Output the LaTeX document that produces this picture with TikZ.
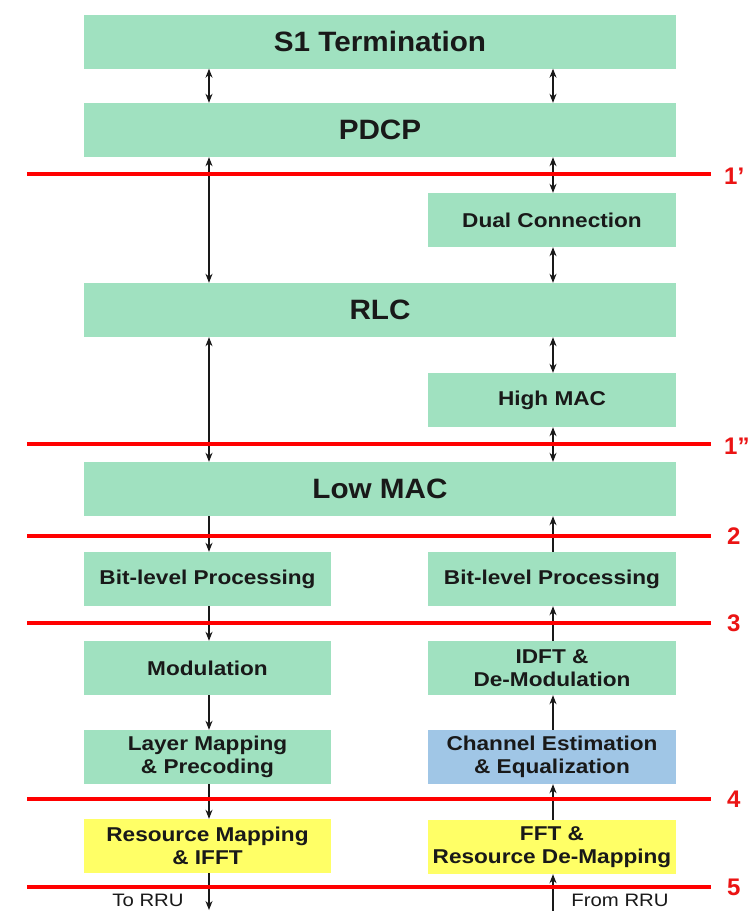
\documentclass[tikz,border=0pt]{standalone}
\usepackage{fontspec}
\setmainfont{Liberation Sans}
\newfontfamily\smallboxfont[FakeStretch=1.13]{Liberation Sans}
\newfontfamily\bigboxfont[FakeStretch=1.06]{Liberation Sans}
\usetikzlibrary{arrows.meta}
\definecolor{boxgreen}{RGB}{160,225,192}
\definecolor{boxblue}{RGB}{160,198,230}
\definecolor{boxyellow}{RGB}{255,255,102}
\definecolor{labelred}{RGB}{235,20,20}
\definecolor{txt}{RGB}{25,25,25}
\tikzset{
  widebox/.style={fill=boxgreen, draw=none, minimum width=592pt, minimum height=54pt, inner sep=0pt,
    text=txt, font=\bigboxfont\bfseries\fontsize{28}{32}\selectfont},
  halfbox/.style={fill=boxgreen, draw=none, minimum width=248pt, minimum height=54pt, inner sep=0pt,
    text=txt, align=center, font=\smallboxfont\bfseries\fontsize{20}{23}\selectfont},
  splitline/.style={draw=red, line width=4pt},
  splitlabel/.style={anchor=west, text=labelred, inner sep=0pt, font=\bfseries\fontsize{24}{26}\selectfont},
  tip/.tip={Stealth[length=9pt,width=7pt]},
  flow/.style={draw=black!90, line width=1.1pt, -tip},
  biflow/.style={draw=black!90, line width=1.1pt, tip-tip},
  rrulabel/.style={text=txt, inner sep=0pt, font=\smallboxfont\fontsize{18}{20}\selectfont}
}
\begin{document}
\begin{tikzpicture}[x=1pt,y=-1pt]
\useasboundingbox[fill=white] (0,0) rectangle (748,911);

% boxes
\node[widebox] (s1)   at (380,41.5) {S1 Termination};
\node[widebox] (pdcp) at (380,130) {PDCP};
\node[halfbox] (dual) at (552,220) {Dual Connection};
\node[widebox] (rlc)  at (380,310) {RLC};
\node[halfbox] (hmac) at (552,400) {High MAC};
\node[widebox] (lmac) at (380,489) {Low MAC};
\node[halfbox, minimum width=247pt] (bitl) at (207.5,579) {Bit-level Processing};
\node[halfbox] (bitr) at (552,579) {Bit-level Processing};
\node[halfbox, minimum width=247pt] (mod) at (207.5,668) {Modulation};
\node[halfbox] (idft) at (552,668) {IDFT \&\\De-Modulation};
\node[halfbox, minimum width=247pt] (layer) at (207.5,757) {Layer Mapping\\\& Precoding};
\node[halfbox, fill=boxblue] (chan) at (552,757) {Channel Estimation\\\& Equalization};
\node[halfbox, minimum width=247pt, fill=boxyellow] (res) at (207.5,846) {Resource Mapping\\\& IFFT};
\node[halfbox, fill=boxyellow] (fft) at (552,847) {FFT \&\\Resource De-Mapping};

% split lines
\coordinate (l1a) at (27,174);  \coordinate (l1b) at (711,174);
\coordinate (l2a) at (27,444);  \coordinate (l2b) at (711,444);
\coordinate (l3a) at (27,536);  \coordinate (l3b) at (711,536);
\coordinate (l4a) at (27,623);  \coordinate (l4b) at (711,623);
\coordinate (l5a) at (27,799);  \coordinate (l5b) at (711,799);
\coordinate (l6a) at (27,887);  \coordinate (l6b) at (711,887);

% arrows
\coordinate (lx) at (209,0);
\coordinate (rx) at (553,0);
\draw[biflow] (s1.south -| lx) -- (pdcp.north -| lx);
\draw[biflow] (s1.south -| rx) -- (pdcp.north -| rx);
\draw[biflow] (pdcp.south -| lx) -- (rlc.north -| lx);
\draw[biflow] (pdcp.south -| rx) -- (dual.north -| rx);
\draw[biflow] (dual.south -| rx) -- (rlc.north -| rx);
\draw[biflow] (rlc.south -| lx) -- (lmac.north -| lx);
\draw[biflow] (rlc.south -| rx) -- (hmac.north -| rx);
\draw[biflow] (hmac.south -| rx) -- (lmac.north -| rx);

\draw[flow] (lmac.south -| lx) -- (bitl.north -| lx);
\draw[flow] (bitl.south -| lx) -- (mod.north -| lx);
\draw[flow] (mod.south -| lx) -- (layer.north -| lx);
\draw[flow] (layer.south -| lx) -- (res.north -| lx);
\coordinate (torru) at (209,910);
\draw[flow] (res.south -| lx) -- (torru);

\coordinate (fromrru) at (553,911);
\draw[flow] (fromrru) -- (fft.south -| rx);
\draw[flow] (fft.north -| rx) -- (chan.south -| rx);
\draw[flow] (chan.north -| rx) -- (idft.south -| rx);
\draw[flow] (idft.north -| rx) -- (bitr.south -| rx);
\draw[flow] (bitr.north -| rx) -- (lmac.south -| rx);

% red lines drawn over arrows
\draw[splitline] (l1a) -- (l1b);
\draw[splitline] (l2a) -- (l2b);
\draw[splitline] (l3a) -- (l3b);
\draw[splitline] (l4a) -- (l4b);
\draw[splitline] (l5a) -- (l5b);
\draw[splitline] (l6a) -- (l6b);

\node[splitlabel] (n1) at (724,176) {1’};
\node[splitlabel] (n2) at (724,446) {1”};
\node[splitlabel] (n3) at (727,536) {2};
\node[splitlabel] (n4) at (727,623) {3};
\node[splitlabel] (n5) at (727,799) {4};
\node[splitlabel] (n6) at (727,887) {5};

\node[rrulabel] (tor) at (148,900) {To RRU};
\node[rrulabel] (fromr) at (620,900) {From RRU};
\end{tikzpicture}
\end{document}
